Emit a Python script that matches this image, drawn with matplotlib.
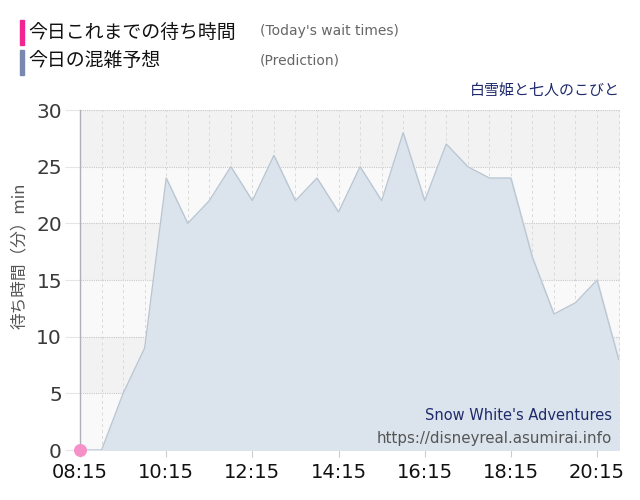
import matplotlib
matplotlib.use("Agg")
import matplotlib.pyplot as plt
from matplotlib.patches import Rectangle

plt.rcParams['font.family'] = ['DejaVu Sans', 'Noto Sans CJK JP']

# prediction every 30 min from 08:15
times = ["08:15", "08:45", "09:15", "09:45", "10:15", "10:45", "11:15", "11:45",
         "12:15", "12:45", "13:15", "13:45", "14:15", "14:45", "15:15", "15:45",
         "16:15", "16:45", "17:15", "17:45", "18:15", "18:45", "19:15", "19:45",
         "20:15", "20:45"]
predicted = [0, 0, 5, 9, 24, 20, 22, 25, 22, 26, 22, 24, 21, 25, 22, 28,
             22, 27, 25, 24, 24, 17, 12, 13, 15, 8]

actual_times = ["08:15"]
actual = [0]

tick_labels = ["08:15", "10:15", "12:15", "14:15", "16:15", "18:15", "20:15"]


def to_min(t):
    h, m = t.split(":")
    return int(h) * 60 + int(m)


x = [to_min(t) for t in times]
xa = [to_min(t) for t in actual_times]
xt = [to_min(t) for t in tick_labels]

fig = plt.figure(figsize=(6.4, 5.0), dpi=100)
ax = fig.add_axes([80 / 640, 1 - 450 / 500, 540 / 640, 340 / 500])

xmin, xmax = to_min("08:15"), to_min("08:15") + 752
ax.set_xlim(xmin, xmax)
ax.set_ylim(0, 30)

# banded background
for i, lo in enumerate(range(0, 30, 5)):
    c = "#f9f9f9" if i % 2 == 0 else "#f2f2f2"
    ax.add_patch(Rectangle((xmin, lo), xmax - xmin, 5, facecolor=c,
                           edgecolor="none", zorder=0))

for y in range(5, 31, 5):
    ax.axhline(y, color="#c8c8c8", lw=0.8, ls=(0, (1, 1)), zorder=1)
for xv in range(xmin + 30, xmax, 30):
    ax.axvline(xv, color="#dadada", lw=0.7, ls=(0, (3, 3)), zorder=1)

ax.fill_between(x, predicted, 0, color="#dbe4ec", zorder=2)
ax.plot(x, predicted, color="#b9c6d1", lw=0.9, zorder=3)

ax.scatter(xa, actual, s=70, color="#f591c8", zorder=5, clip_on=False)

ax.set_xticks(xt)
ax.set_xticklabels(tick_labels, fontsize=14, color="#111111")
ax.set_yticks(range(0, 31, 5))
ax.tick_params(axis="y", length=11, width=0.8, color="#e6e6e6",
               labelsize=14.5, labelcolor="#3a3a3a", pad=2)
ax.tick_params(axis="x", length=5, color="#cccccc", pad=4)

for s in ["top", "right", "bottom"]:
    ax.spines[s].set_visible(False)
ax.spines["left"].set_color("#b0b0b8")
ax.spines["left"].set_linewidth(1)

ax.set_ylabel("待ち時間（分）min", fontsize=12, color="#555555",
              family=["Noto Sans CJK JP", "DejaVu Sans"], labelpad=6, y=0.57)

ax.text(0.985, 0.10, "Snow White's Adventures", transform=ax.transAxes,
        ha="right", va="center", fontsize=10.5, color="#1f2a6b")
ax.text(0.985, 0.035, "https://disneyreal.asumirai.info", transform=ax.transAxes,
        ha="right", va="center", fontsize=10.8, color="#555555")

# header legend
fig.patches.append(Rectangle((20 / 640, 1 - 45 / 500), 4 / 640, 25 / 500,
                             transform=fig.transFigure, color="#f0258f"))
fig.patches.append(Rectangle((20 / 640, 1 - 75 / 500), 4 / 640, 25 / 500,
                             transform=fig.transFigure, color="#7a88b0"))
fig.text(28 / 640, 1 - 32 / 500, "今日これまでの待ち時間", fontsize=13.6,
         family=["Noto Sans CJK JP"], va="center", color="#111111")
fig.text(28 / 640, 1 - 61 / 500, "今日の混雑予想", fontsize=13.6,
         family=["Noto Sans CJK JP"], va="center", color="#111111")
fig.text(260 / 640, 1 - 31 / 500, "(Today's wait times)", fontsize=10,
         va="center", color="#666666")
fig.text(260 / 640, 1 - 61 / 500, "(Prediction)", fontsize=10,
         va="center", color="#666666")
fig.text(620 / 640, 1 - 91 / 500, "白雪姫と七人のこびと", fontsize=10.8,
         family=["Noto Sans CJK JP"], ha="right", va="center", color="#1f2a6b")

fig.savefig("out.png", dpi=100)
